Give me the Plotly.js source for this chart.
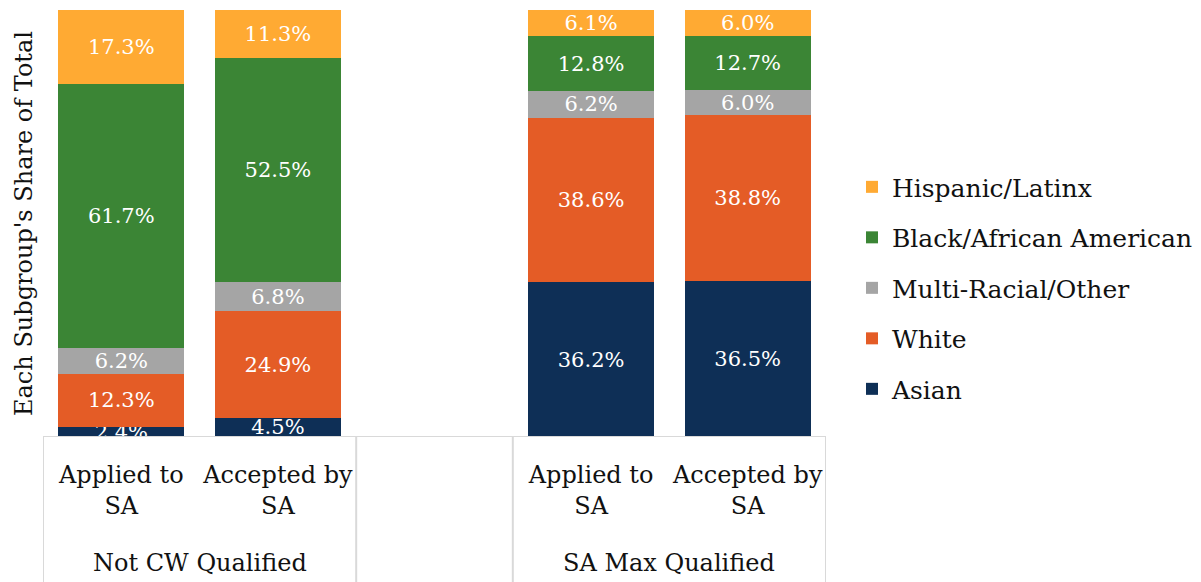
<!DOCTYPE html>
<html>
<head>
<meta charset="utf-8">
<script src="https://cdn.plot.ly/plotly-3.0.1.min.js"></script>
<style>html,body{margin:0;padding:0;background:#fff;}#chart{width:1201px;height:582px;}</style>
</head>
<body>
<div id="chart"></div>
<script>
// ---- data ----
const groups = ['Not CW Qualified', 'SA Max Qualified'];
const subCategories = ['Applied to<br>SA', 'Accepted by<br>SA'];
const seriesNames = ['Asian', 'White', 'Multi-Racial/Other', 'Black/African American', 'Hispanic/Latinx'];
const asian    = [2.4, 4.5, 36.2, 36.5];
const white    = [12.3, 24.9, 38.6, 38.8];
const multi    = [6.2, 6.8, 6.2, 6.0];
const black    = [61.7, 52.5, 12.8, 12.7];
const hispanic = [17.3, 11.3, 6.1, 6.0];
const colors = ['#0E2F56', '#E45C26', '#A5A5A5', '#3B8535', '#FFAA33'];

// ---- positions: each group takes len(subCategories) slots + 1 empty slot gap ----
const slotsPerGroup = subCategories.length + 1;
const xPos = [], tickText = [];
groups.forEach((g, gi) => subCategories.forEach((s, si) => { xPos.push(gi * slotsPerGroup + si); tickText.push(s); }));
const nSlots = groups.length * slotsPerGroup - 1;
const xMin = -0.5, xMax = nSlots - 0.5;

const FONT = 'DejaVu Serif';
const values = [asian, white, multi, black, hispanic];
const traces = seriesNames.map((name, i) => ({
  type: 'bar', name: name, x: xPos, y: values[i],
  marker: {color: colors[i], line: {width: 0}},
  width: 0.805,
  texttemplate: '%{y:.1f}%', textposition: 'inside', insidetextanchor: 'middle',
  textfont: {family: FONT, size: 21, color: '#ffffff'},
  legendgroup: 'g' + i, legendrank: seriesNames.length - i, hoverinfo: 'skip'
}));

const lineColor = '#D9D9D9';
const shapes = [{type: 'line', xref: 'x', yref: 'y', x0: xMin, x1: xMax, y0: 0, y1: 0, line: {color: lineColor, width: 2}}];
const boundaries = [xMin];
groups.forEach((g, gi) => { boundaries.push(gi * slotsPerGroup + subCategories.length - 0.5); if (gi < groups.length - 1) boundaries.push((gi + 1) * slotsPerGroup - 0.5); });
boundaries.forEach(b => shapes.push({type: 'line', xref: 'x', yref: 'paper', x0: b, x1: b, y0: 0, y1: -0.36, line: {color: lineColor, width: 2}}));

const annotations = groups.map((g, gi) => ({
  text: g, xref: 'x', yref: 'paper', x: gi * slotsPerGroup + (subCategories.length - 1) / 2, y: -0.295,
  yanchor: 'middle', showarrow: false, font: {family: FONT, size: 24, color: '#111'}
}));

const layout = {
  width: 1201, height: 582,
  margin: {l: 43, r: 375, t: 10, b: 145},
  paper_bgcolor: '#fff', plot_bgcolor: '#fff',
  barmode: 'stack', bargap: 0,
  uniformtext: {mode: 'show', minsize: 21},
  xaxis: {range: [xMin, xMax], tickvals: xPos, ticktext: tickText, showgrid: false, zeroline: false,
          showline: false, ticks: '', tickfont: {family: FONT, size: 24, color: '#111'}, ticklabelstandoff: 21},
  yaxis: {range: [0, 100], showgrid: false, zeroline: false, showticklabels: false, showline: false, ticks: '',
          title: {text: "Each Subgroup's Share of Total", font: {family: FONT, size: 24, color: '#111'}, standoff: 2}},
  legend: {xref: 'container', yref: 'container', x: 0.7094, xanchor: 'left', y: 0.505, yanchor: 'middle',
           traceorder: 'grouped', tracegroupgap: 15,
           font: {family: FONT, size: 25, color: '#111'}, bgcolor: 'rgba(0,0,0,0)'},
  shapes: shapes, annotations: annotations, showlegend: true
};
Plotly.newPlot('chart', traces, layout, {displayModeBar: false, staticPlot: true});
</script>
</body>
</html>
